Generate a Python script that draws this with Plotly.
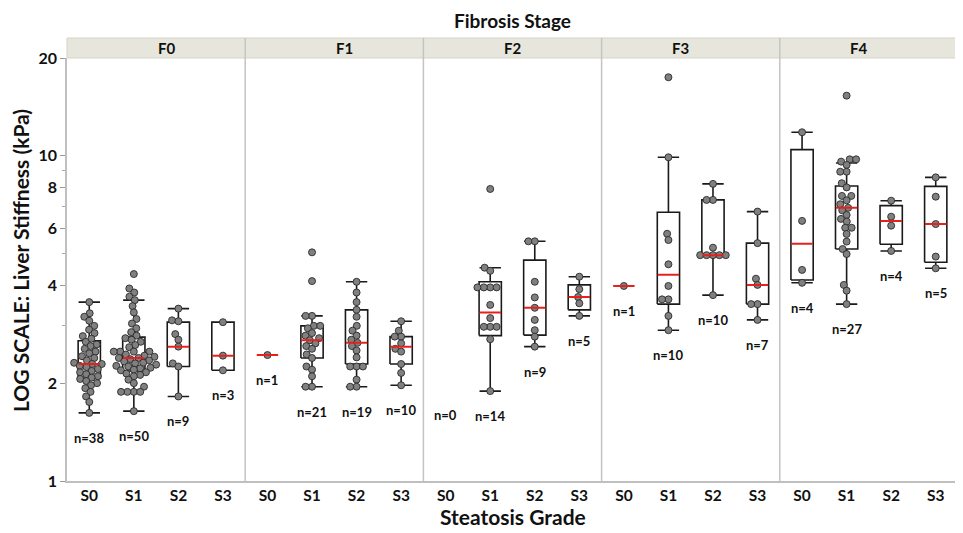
import math
import plotly.graph_objects as go

# ---------------- data ----------------
stages = ["F0", "F1", "F2", "F3", "F4"]
grades = ["S0", "S1", "S2", "S3"]

f0_values = [
    [3.55, 3.28, 3.20, 3.11, 3.00, 2.92, 2.85, 2.79, 2.74,
     2.68, 2.63, 2.60, 2.55, 2.50, 2.47, 2.42, 2.39, 2.35, 2.31,
     2.29, 2.29,
     2.26, 2.24, 2.21, 2.18, 2.16, 2.13, 2.10, 2.08,
     2.06, 2.03, 2.00, 1.97, 1.93, 1.88, 1.82, 1.75, 1.62],
    [4.33, 3.91, 3.80, 3.69, 3.60, 3.45, 3.30, 3.15, 3.05, 2.95, 2.87, 2.80,
     2.75, 2.72, 2.68, 2.62, 2.58, 2.50, 2.50, 2.50, 2.50, 2.45, 2.43, 2.41,
     2.39, 2.39,
     2.37, 2.35, 2.33, 2.31, 2.30, 2.28, 2.26, 2.25, 2.23, 2.22, 2.20, 2.19,
     2.16, 2.14, 2.12, 2.10, 2.05, 2.00, 1.95, 1.88, 1.88, 1.88, 1.88, 1.64],
    [3.39, 3.12, 3.10, 2.83, 2.72, 2.59, 2.30, 2.25, 1.82],
    [3.08, 2.43, 2.19],
]
f1_values = [
    [2.44],
    [5.05, 4.12, 3.22, 3.22, 3.00, 3.00, 2.95, 2.85, 2.80, 2.75, 2.71,
     2.65, 2.60, 2.55, 2.45, 2.39, 2.25, 2.20, 2.10, 1.95, 1.95],
    [4.10, 3.80, 3.55, 3.36, 3.20, 3.00, 2.90, 2.80, 2.72, 2.66,
     2.60, 2.52, 2.40, 2.25, 2.25, 2.25, 2.05, 1.95, 1.95],
    [3.10, 2.90, 2.78, 2.78, 2.65, 2.55, 2.50, 2.29, 2.15, 1.97],
]
f2_values = [
    [],
    [7.91, 4.53, 4.43, 3.94, 3.94, 3.94, 3.94, 3.48, 3.17, 2.98, 2.98, 2.98,
     2.73, 1.89],
    [5.46, 5.46, 4.10, 3.67, 3.41, 3.13, 2.91, 2.78, 2.59],
    [4.25, 3.89, 3.68, 3.52, 3.22],
]
f3_values = [
    [3.98],
    [17.45, 9.90, 5.76, 5.51, 4.64, 3.98, 3.62, 3.62, 3.22, 2.91],
    [8.20, 7.32, 7.32, 5.22, 4.95, 4.95, 4.95, 4.95, 4.95, 3.73],
    [6.74, 5.39, 4.19, 4.01, 3.50, 3.50, 3.13],
]
f4_values = [
    [11.82, 6.31, 4.46, 4.07],
    [15.32, 9.76, 9.76, 9.60, 9.38, 8.94, 8.94, 8.24, 8.00, 7.53, 7.53, 7.30,
     7.10, 6.92, 6.80, 6.58, 6.40, 6.28, 6.01, 6.01, 5.75, 5.45, 5.17, 4.99,
     4.01, 3.85, 3.50],
    [7.28, 6.50, 6.10, 5.10],
    [8.59, 7.49, 6.17, 4.90, 4.51],
]
all_values = [f0_values, f1_values, f2_values, f3_values, f4_values]

# box statistics (rows = stages, cols = grades)
whisker_low = [[1.62, 1.64, 1.82, 2.19], [None, 1.95, 1.95, 1.97], [None, 1.89, 2.59, 3.22],
               [None, 2.91, 3.73, 3.13], [4.07, 3.50, 5.10, 4.51]]
q1 = [[2.07, 2.18, 2.25, 2.19], [None, 2.39, 2.29, 2.29], [None, 2.80, 2.81, 3.36],
      [None, 3.50, 4.95, 3.50], [4.15, 5.17, 5.35, 4.71]]
median = [[2.29, 2.39, 2.59, 2.43], [2.44, 2.71, 2.66, 2.59], [None, 3.30, 3.41, 3.68],
          [3.98, 4.31, 4.95, 4.01], [5.37, 6.92, 6.31, 6.17]]
q3 = [[2.70, 2.77, 3.08, 3.08], [None, 3.00, 3.36, 2.78], [None, 4.10, 4.78, 4.01],
      [None, 6.71, 7.32, 5.39], [10.45, 8.08, 7.03, 8.06]]
whisker_high = [[3.55, 3.60, 3.39, 3.08], [None, 3.22, 4.10, 3.10], [None, 4.53, 5.46, 4.25],
                [None, 9.90, 8.20, 6.74], [11.82, 9.51, 7.28, 8.59]]

y_ticks = [1, 2, 4, 6, 8, 10, 20]
y_minor = [3, 5, 7, 9]

# ---------------- geometry helpers ----------------
# the page body has an 8px margin, so the figure is sized to fit the window
W, H = 955, 525
ML, MR, MT, MB = 59, 5, 50, 52
PW, PH = W - ML - MR, H - MT - MB
YMAX = 20
PPD = PH / math.log10(YMAX)           # pixels per decade
PXU = PW / len(stages) / len(grades)  # pixels per category unit
BOX_HW = 0.25
CAP_HW = 0.24
DOT = 7.0
GAP = 6.4


def swarm(vals):
    ys = [math.log10(v) * PPD for v in vals]
    order = sorted(range(len(vals)), key=lambda i: ys[i])
    placed, xs = [], [0.0] * len(vals)
    for i in order:
        y = ys[i]
        near = [(px, py) for px, py in placed if abs(py - y) < GAP]
        cands = [0.0]
        for px, py in near:
            dx = math.sqrt(GAP * GAP - (py - y) ** 2)
            cands += [px + dx, px - dx]
        cands.sort(key=lambda c: (round(abs(c), 3), c))
        for c in cands:
            if all((c - px) ** 2 + (y - py) ** 2 >= GAP * GAP - 1e-6 for px, py in near):
                xs[i] = c
                break
        placed.append((xs[i], y))
    return [x / PXU for x in xs]


fig = go.Figure()
annotations = []
for si, stage in enumerate(stages):
    xa = "x" if si == 0 else f"x{si + 1}"
    bx, by, mx, my, px, py = [], [], [], [], [], []
    for gi, g in enumerate(grades):
        c = gi + 1
        vals = all_values[si][gi]
        if q1[si][gi] is not None:
            lo, a, b, hi = whisker_low[si][gi], q1[si][gi], q3[si][gi], whisker_high[si][gi]
            bx += [c - BOX_HW, c + BOX_HW, c + BOX_HW, c - BOX_HW, c - BOX_HW, None]
            by += [a, a, b, b, a, None]
            bx += [c, c, None, c, c, None]
            by += [hi, b, None, a, lo, None]
            if hi > b:
                bx += [c - CAP_HW, c + CAP_HW, None]
                by += [hi, hi, None]
            if lo < a:
                bx += [c - CAP_HW, c + CAP_HW, None]
                by += [lo, lo, None]
        if median[si][gi] is not None:
            mx += [c - CAP_HW, c + CAP_HW, None]
            my += [median[si][gi], median[si][gi], None]
        offs = swarm(vals) if vals else []
        px += [c + o for o in offs]
        py += vals
        ylab = math.log10(min(vals)) - 25 / PPD if vals else math.log10(1.6)
        annotations.append(dict(x=c, y=ylab, xref=xa, yref="y", text=f"n={len(vals)}",
                                showarrow=False, font=dict(size=13, weight="bold", color="#111"),
                                yanchor="middle", xanchor="center"))
    fig.add_trace(go.Scatter(x=bx, y=by, xaxis=xa, yaxis="y", mode="lines",
                             line=dict(color="#1a1a1a", width=1.6), hoverinfo="skip",
                             showlegend=False))
    fig.add_trace(go.Scatter(x=px, y=py, xaxis=xa, yaxis="y", mode="markers",
                             marker=dict(size=DOT, color="#808080",
                                         line=dict(color="#2a2a2a", width=0.9)),
                             showlegend=False))
    fig.add_trace(go.Scatter(x=mx, y=my, xaxis=xa, yaxis="y", mode="lines",
                             line=dict(color="#e8201c", width=2), hoverinfo="skip",
                             showlegend=False))

layout = dict(
    width=W, height=H,
    margin=dict(l=ML, r=MR, t=MT, b=MB),
    paper_bgcolor="white", plot_bgcolor="white",
    font=dict(family="Lato, 'Open Sans', sans-serif", color="#111"),
    showlegend=False,
    yaxis=dict(type="log", range=[0, math.log10(YMAX)], anchor="x",
               tickvals=y_ticks, ticktext=[str(t) for t in y_ticks],
               ticks="outside", ticklen=5, tickcolor="#999", showgrid=False,
               showline=True, linecolor="#bfbfbf", linewidth=1.5, zeroline=False,
               tickfont=dict(size=16, weight="bold", color="#111"),
               minor=dict(tickvals=y_minor, ticks="outside", ticklen=3,
                          tickcolor="#aaa", showgrid=False)),
)
n = len(stages)
for si in range(n):
    key = "xaxis" if si == 0 else f"xaxis{si + 1}"
    layout[key] = dict(domain=[si / n, (si + 1) / n], anchor="y", range=[0.5, 4.5],
                       tickvals=[1, 2, 3, 4], ticktext=grades, ticks="",
                       showgrid=False, zeroline=False, showline=True,
                       linecolor="#bfbfbf", linewidth=1.5,
                       tickfont=dict(size=15.5, weight="bold", color="#111"))
fig.update_layout(**layout)


# target pixel rows in the window (window y = figure y + 8)
def paper_y(win_y):
    return 1 - (win_y - 8 - MT) / PH


hdr_top = paper_y(38)
shapes = [dict(type="rect", xref="paper", yref="paper", x0=0, x1=1, y0=1, y1=hdr_top,
               fillcolor="#e7e6dd", line=dict(color="#d5d4cb", width=1), layer="below")]
for si in range(1, n):
    shapes.append(dict(type="line", xref="paper", yref="paper", x0=si / n, x1=si / n,
                       y0=0, y1=hdr_top, line=dict(color="#c4c4c4", width=1.5)))
for si, stage in enumerate(stages):
    annotations.append(dict(x=(si + 0.5) / n, y=(1 + hdr_top) / 2, xref="paper", yref="paper",
                            text=stage, showarrow=False, yanchor="middle",
                            font=dict(size=15, weight="bold", color="#111")))
annotations.append(dict(x=0.5, y=paper_y(20), xref="paper", yref="paper",
                        text="Fibrosis Stage", showarrow=False, yanchor="middle",
                        font=dict(size=19, weight="bold", color="#111")))
annotations.append(dict(x=0.5, y=paper_y(517), xref="paper", yref="paper",
                        text="Steatosis Grade", showarrow=False, yanchor="middle",
                        font=dict(size=21, weight="bold", color="#111")))
annotations.append(dict(x=(20 - 8 - ML) / PW, y=paper_y(261), xref="paper", yref="paper",
                        text="LOG SCALE: Liver Stiffness (kPa)", textangle=-90,
                        showarrow=False, xanchor="center", yanchor="middle",
                        font=dict(size=21, weight="bold", color="#111")))
fig.update_layout(shapes=shapes, annotations=annotations)

fig.write_html("out.html")
